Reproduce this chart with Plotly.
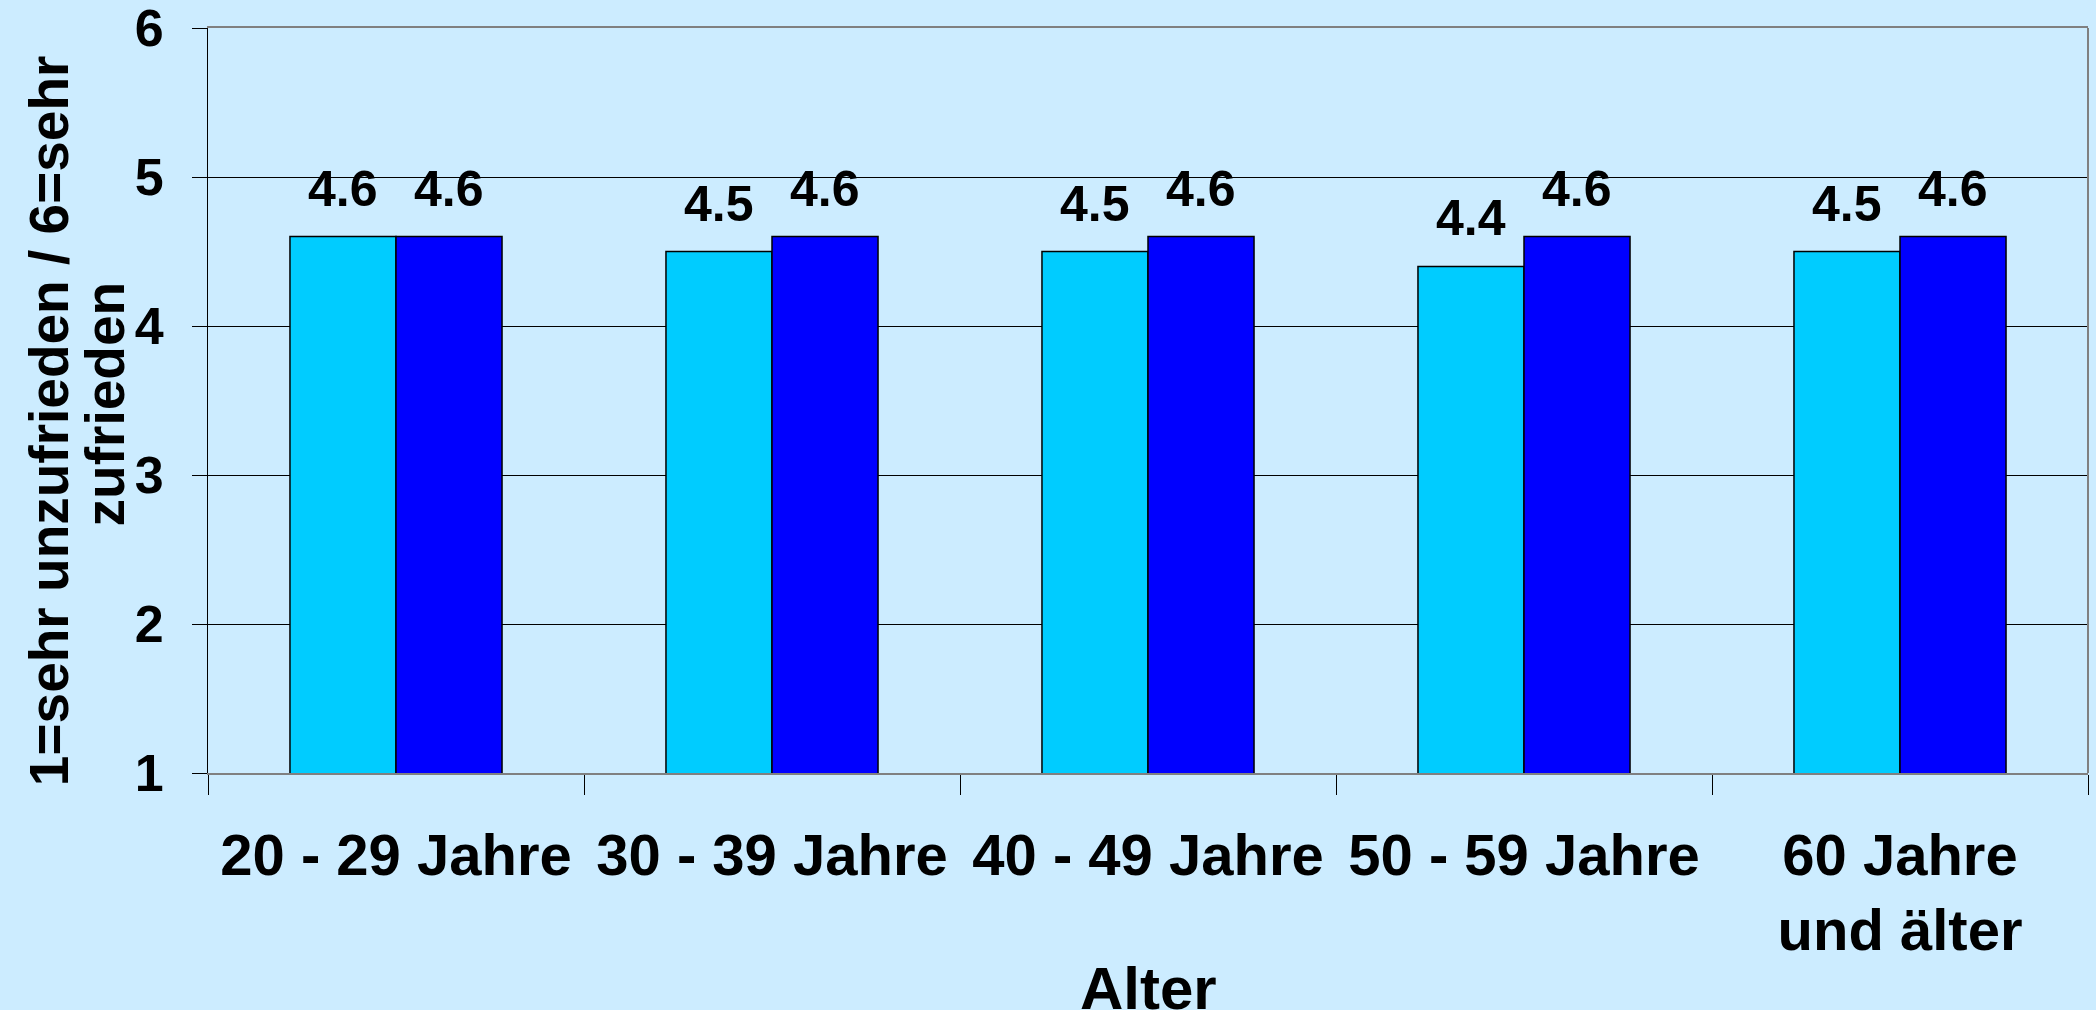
import plotly.graph_objects as go

categories = ["20 - 29 Jahre", "30 - 39 Jahre", "40 - 49 Jahre", "50 - 59 Jahre", "60 Jahre<br>und älter"]
series_a = [4.6, 4.5, 4.5, 4.4, 4.5]
series_b = [4.6, 4.6, 4.6, 4.6, 4.6]
y_ticks = [1, 2, 3, 4, 5, 6]
y_title_lines = ["1=sehr unzufrieden / 6=sehr", "zufrieden"]
x_title = "Alter"

BG = "#CCECFF"
FONT = "Liberation Sans, Arial, sans-serif"

fig = go.Figure()
fig.add_trace(go.Bar(x=categories, y=series_a, marker=dict(color="#00CCFF", line=dict(color="black", width=1.5)),
                     name="A"))
fig.add_trace(go.Bar(x=categories, y=series_b, marker=dict(color="#0000FF", line=dict(color="black", width=1.5)),
                     name="B"))

W, H = 2096, 1010
L, R, T, B = 208, 8, 28, 237
plot_w = W - L - R
cat_w = plot_w / len(categories)
bargap = 0.436
bar_w = cat_w * (1 - bargap) / 2
annotations = []
for i, c in enumerate(categories):
    for vals, sh in ((series_a, -bar_w / 2), (series_b, bar_w / 2)):
        annotations.append(dict(x=c, y=vals[i], xref="x", yref="y", text=f"<b>{vals[i]:.1f}</b>",
                                showarrow=False, xshift=sh, yshift=18, yanchor="bottom",
                                font=dict(family=FONT, size=50, color="black")))

for line, xp, yp in zip(y_title_lines, (-0.0845, -0.0547), (0.4725, 0.495)):
    annotations.append(dict(x=xp, y=yp, xref="paper", yref="paper", textangle=-90,
                            text=f"<b>{line}</b>", showarrow=False,
                            xanchor="center", yanchor="middle",
                            font=dict(family=FONT, size=55, color="black")))
annotations.append(dict(x=0.5, y=-0.289, xref="paper", yref="paper", text=f"<b>{x_title}</b>",
                        showarrow=False, xanchor="center", yanchor="middle",
                        font=dict(family=FONT, size=60, color="black")))

fig.update_layout(
    width=W, height=H,
    margin=dict(l=L, r=R, t=T, b=B, autoexpand=False),
    paper_bgcolor=BG, plot_bgcolor=BG,
    barmode="group", bargap=bargap, bargroupgap=0,
    showlegend=False,
    annotations=annotations,
    font=dict(family=FONT, color="black"),
    shapes=[dict(type="line", xref="paper", yref="paper", x0=1, x1=1, y0=0, y1=1,
                 line=dict(color="#808080", width=2))],
)
fig.update_xaxes(
    type="category", tickson="boundaries", ticks="outside", ticklen=20, tickcolor="black", tickwidth=1,
    showline=True, linecolor="#808080", linewidth=2, mirror=True,
    showgrid=False, ticklabelstandoff=30, ticklabeloverflow="allow",
    tickfont=dict(family=FONT, size=58, color="black", weight="bold"),
)
fig.update_yaxes(
    range=[1, 6], tickvals=y_ticks, ticks="outside", ticklen=15, tickcolor="black", tickwidth=1,
    showline=True, linecolor="black", linewidth=1,
    showgrid=True, gridcolor="black", gridwidth=1, zeroline=False,
    ticklabelstandoff=18, ticklabeloverflow="allow",
    tickfont=dict(family=FONT, size=52, color="black", weight="bold"),
)
fig.write_html("out.html", config={"displayModeBar": False},
               post_script="document.body.style.margin='0';document.body.style.background='#CCECFF';")
